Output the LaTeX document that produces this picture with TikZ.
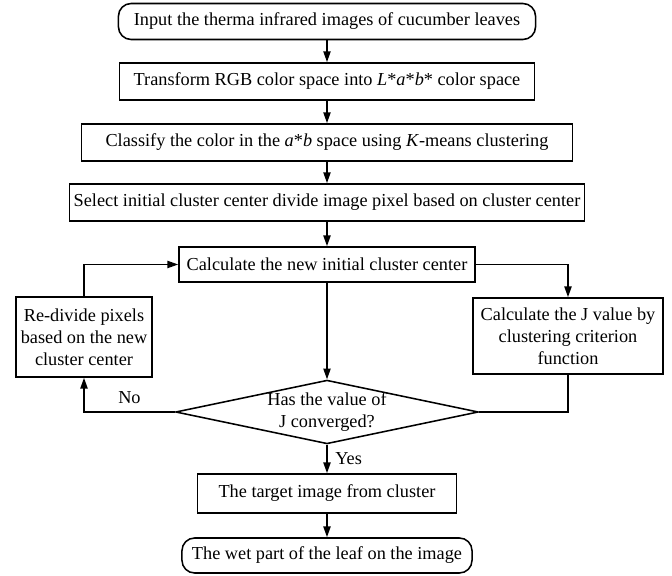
\documentclass[tikz,border=0pt]{standalone}
\usepackage{fontspec}
\setmainfont{Liberation Serif}
\usepackage{tikz}
\usetikzlibrary{arrows.meta, positioning, calc, shapes.geometric}
\tikzset{
  box/.style={draw, line width=1.1pt, inner sep=2pt, align=center, minimum height=#1},
  box/.default=0.93cm,
  term/.style={draw, line width=1.1pt, rounded corners=9pt, minimum height=0.9cm},
  decide/.style={draw, line width=1.1pt, diamond, aspect=4.75, inner sep=0pt, align=center,
    minimum width=7.375cm, minimum height=1.55cm},
  arr/.style={-{Triangle[length=2.7mm, width=1.8mm]}, line width=1.1pt},
  lin/.style={line width=1.1pt},
}

\begin{document}
\begin{tikzpicture}[x=0.025cm, y=-0.025cm, font=\fontsize{13}{15.5}\selectfont]
    \useasboundingbox (0,0) rectangle (672,576);
    \node[term, minimum width=10.425cm] (input) at (327,21.5) {Input the therma infrared images of cucumber leaves};
    \node[box, minimum width=10.375cm] (trans) at (327,81.5) {Transform RGB color space into \textit{L}*\textit{a}*\textit{b}* color space};
    \node[box, minimum width=12.275cm] (classify) at (327,142.5) {Classify the color in the \textit{a}*\textit{b} space using \textit{K}-means clustering};
    \node[box, minimum width=12.875cm] (select) at (327,202.5) {Select initial cluster center divide image pixel based on cluster center};
    \node[box=0.875cm, minimum width=7.4cm] (newc) at (327,264.5) {Calculate the new initial cluster center};
    \node[box=2cm, minimum width=3.4cm] (redivide) at (84,337) {Re-divide pixels\\based on the new\\cluster center};
    \node[box=1.9cm, minimum width=4.75cm] (calcj) at (568,336) {Calculate the J value by\\clustering criterion\\function};
    \node[decide] (conv) at (327,412) {Has the value of\\J converged?};
    \node[box=0.975cm, minimum width=6.475cm] (target) at (327,493.5) {The target image from cluster};
    \node[term, minimum width=7.25cm, minimum height=0.875cm] (wet) at (327,555.5) {The wet part of the leaf on the image};

    \draw[arr] (input) -- (trans);
    \draw[arr] (trans) -- (classify);
    \draw[arr] (classify) -- (select);
    \draw[arr] (select) -- (newc);
    \draw[arr] (newc) -- (conv);
    \draw[arr] (newc.east) -| (calcj.north);
    \draw[lin] (calcj.south) |- (conv.east);
    \draw[arr] (conv.west) -| node[pos=0.25, above=2pt] (no) {No} (redivide.south);
    \draw[arr] (redivide.north) |- (newc.west);
    \draw[arr] (conv.south) -- node[right, xshift=2pt] (yes) {Yes} (target.north);
    \draw[arr] (target) -- (wet);
\end{tikzpicture}
\end{document}
